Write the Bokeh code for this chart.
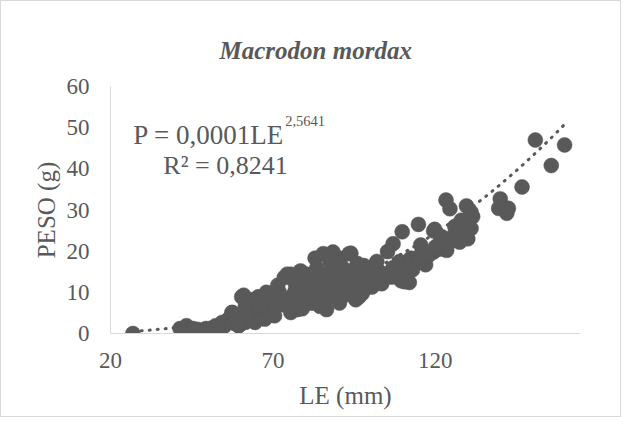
import numpy as np
from bokeh.plotting import figure
from bokeh.models import Label, Range1d, FixedTicker
from bokeh.embed import file_html
from bokeh.resources import INLINE

# LE (mm) and PESO (g)
LE = [150.8, 159.8, 155.7, 146.7, 140.0, 142.5, 139.5, 142.0,
      123.3, 124.5, 129.6, 131.5, 129.0, 130.0, 126.5, 124.5, 119.8, 114.8, 109.8, 107.0,
      105.3, 115.5, 117.0, 119.5, 121.5, 111.5, 109.0, 112.0, 109.5, 106.5, 102.5, 99.5,
      94.0, 93.5, 95.5, 99.5, 103.5,
      127.5, 125.5, 121.5, 123.5, 115.5, 112.5, 119.5, 97.5, 100.5, 97.5, 106.5, 110.5,
      88.5, 85.5, 83.0, 90.5, 87.5, 90.5, 94.5, 92.5, 89.5, 86.5, 83.5, 80.5, 78.5, 75.5,
      73.5, 71.5, 79.5, 82.5, 85.5, 88.5, 90.5, 84.5, 81.5, 78.5, 75.5, 77.5, 80.5, 76.5,
      74.5, 69.5, 67.5, 65.5, 61.0, 63.5, 70.5, 67.5, 64.5, 61.5, 59.5, 57.5, 56.5, 65.5,
      61.5, 93.5, 96.5, 94.5, 99.5, 100.5, 85.5, 86.5, 82.5, 80.5, 78.5, 76.5, 74.4, 83.5,
      68.4, 63.4, 61.4, 66.5, 63.4, 60.4,
      26.9, 41.4, 43.4, 45.4, 49.4, 52.4, 54.4, 56.4, 59.4, 57.4,
      72.0, 70.0, 68.0, 66.0, 73.0, 76.0, 79.0, 82.0, 84.0, 87.0, 89.0, 91.0, 93.0, 95.0,
      97.0, 101.0, 104.0, 107.0, 110.0, 113.0, 115.0, 118.0, 120.0, 122.0, 126.0, 128.0,
      131.0, 131.0, 92.0, 88.0, 85.0, 81.0, 77.0, 102.0, 98.0, 96.0, 91.0, 58.0, 55.0,
      53.0, 51.0, 47.0]
PESO = [47.0, 45.8, 40.8, 35.6, 32.7, 30.4, 30.4, 29.2,
        32.4, 30.3, 31.0, 28.4, 25.3, 23.0, 24.5, 22.2, 25.3, 26.5, 24.7, 21.8,
        19.9, 21.5, 16.7, 19.8, 20.5, 17.5, 17.5, 12.4, 12.8, 13.7, 15.2, 15.6,
        19.5, 15.2, 8.2, 11.3, 12.1,
        22.2, 23.7, 22.2, 20.2, 19.1, 18.3, 24.9, 15.2, 11.3, 9.7, 14.0, 12.6,
        19.8, 19.4, 18.3, 18.3, 17.5, 15.2, 13.6, 11.3, 12.1, 14.4, 15.9, 14.4, 15.2, 14.4,
        13.6, 11.7, 12.1, 11.3, 9.7, 8.9, 7.4, 6.6, 7.4, 8.2, 5.1, 5.8, 9.7, 9.7,
        8.2, 6.6, 8.2, 8.9, 9.3, 8.2, 4.3, 3.5, 2.7, 2.7, 1.9, 5.1, 3.5, 5.8,
        6.6, 19.4, 8.9, 12.8, 13.6, 15.9, 8.2, 5.8, 7.4, 8.9, 12.8, 12.8, 14.4, 15.2,
        5.8, 3.5, 4.3, 4.3, 7.4, 8.9,
        0.0, 1.2, 1.9, 1.2, 1.2, 1.9, 2.7, 3.5, 1.9, 5.1,
        10.0, 9.0, 10.0, 6.5, 7.0, 6.5, 6.0, 9.0, 10.5, 11.0, 10.0, 10.0, 9.5, 11.0,
        12.5, 13.5, 14.5, 16.0, 15.0, 15.5, 17.5, 19.0, 21.0, 23.5, 26.0, 27.5,
        29.5, 25.5, 13.0, 15.0, 13.0, 12.5, 11.0, 17.5, 16.5, 17.0, 16.5, 2.5, 1.8,
        1.5, 1.3, 1.0]

X_TICKS = [20, 70, 120]
Y_TICKS = [0, 10, 20, 30, 40, 50, 60]
TITLE = "Macrodon mordax"
X_LABEL = "LE (mm)"
Y_LABEL = "PESO (g)"
EQ_MAIN = "P = 0,0001LE"
EQ_EXP = "2,5641"
EQ_R2 = "R² = 0,8241"

# power trendline shown in the chart
TREND_COEF = 0.0001137
TREND_EXP = 2.5641
TREND_X = [27.0, 159.5]

GREY = "#595959"
FONT = "Liberation Serif"

p = figure(width=621, height=417, output_backend="svg", toolbar_location=None,
           x_range=Range1d(20, 164.7), y_range=Range1d(0, 60),
           min_border_left=109, min_border_right=42,
           min_border_top=85, min_border_bottom=85)
p.outline_line_color = None
p.xgrid.visible = False
p.ygrid.visible = False
p.styles = {"border": "1px solid #d9d9d9", "box-sizing": "border-box"}

p.title.text = TITLE
p.title.text_font = FONT
p.title.text_font_style = "bold italic"
p.title.text_font_size = "25px"
p.title.text_color = GREY
p.title.align = "left"
p.title.offset = 109
p.title.vertical_align = "top"
p.title.standoff = 42

for ax in (p.xaxis[0], p.yaxis[0]):
    ax.axis_line_color = "#d9d9d9"
    ax.axis_line_width = 1
    ax.major_tick_line_color = None
    ax.minor_tick_line_color = None
    ax.major_label_text_font = FONT
    ax.major_label_text_font_size = "23px"
    ax.major_label_text_color = GREY
    ax.axis_label_text_font = FONT
    ax.axis_label_text_font_size = "25px"
    ax.axis_label_text_font_style = "normal"
    ax.axis_label_text_color = GREY

p.xaxis.ticker = FixedTicker(ticks=X_TICKS)
p.yaxis.ticker = FixedTicker(ticks=Y_TICKS)
p.xaxis.axis_label = X_LABEL
p.yaxis.axis_label = Y_LABEL
p.xaxis.major_label_standoff = 13
p.yaxis.major_label_standoff = 15
p.xaxis.axis_label_standoff = 11
p.yaxis.axis_label_standoff = 4

# trendline
tx = np.linspace(TREND_X[0], TREND_X[1], 200)
ty = TREND_COEF * tx ** TREND_EXP
p.line(tx, ty, line_color=GREY, line_width=3, line_dash="1 7", line_cap="round")

# points
p.scatter(LE, PESO, size=15, fill_color=GREY, line_color=GREY, line_width=0.5)

# equation
p.add_layout(Label(x=73.48, y=48.1, text=EQ_MAIN, text_font=FONT, text_font_size="27px",
                   text_color=GREY, text_align="right", text_baseline="alphabetic"))
p.add_layout(Label(x=73.48, y=51.6, x_offset=1, text=EQ_EXP, text_font=FONT,
                   text_font_size="14.5px", text_color=GREY, text_align="left",
                   text_baseline="alphabetic"))
p.add_layout(Label(x=55.4, y=40.9, text=EQ_R2, text_font=FONT, text_font_size="26px",
                   text_color=GREY, text_align="center", text_baseline="alphabetic"))

open("out.html", "w").write(file_html(p, INLINE))
